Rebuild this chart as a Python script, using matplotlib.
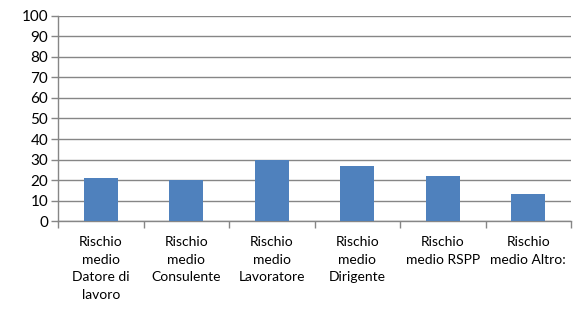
import numpy as np
import matplotlib
matplotlib.use("Agg")
import matplotlib.pyplot as plt

# Data
categories = [
    "Rischio\nmedio\nDatore di\nlavoro",
    "Rischio\nmedio\nConsulente",
    "Rischio\nmedio\nLavoratore",
    "Rischio\nmedio\nDirigente",
    "Rischio\nmedio RSPP",
    "Rischio\nmedio Altro:",
]
values = [21, 20, 30, 27, 22, 13]
y_ticks = list(range(0, 101, 10))

plt.rcParams['font.family'] = ['Lato', 'DejaVu Sans']

fig = plt.figure(figsize=(5.74, 3.11), dpi=100)
ax = fig.add_axes([0.101, 0.289, 0.894, 0.66])

x = np.arange(len(values))
ax.bar(x, values, width=0.4, color="#4f81bd", zorder=3)

ax.set_xlim(-0.5, len(values) - 0.5)
ax.set_ylim(0, 100)
ax.set_yticks(y_ticks)
ax.yaxis.grid(True, color="#868686", linewidth=1.0, zorder=0)
ax.tick_params(axis="y", length=5, width=1, color="#868686", labelsize=11, pad=2)

# category boundary ticks on x axis, labels at centers
ax.set_xticks(np.arange(-0.5, len(values), 1.0))
ax.set_xticklabels([])
ax.set_xticks(x, minor=True)
ax.set_xticklabels(categories, minor=True, fontsize=10, linespacing=1.55, va="top")
ax.tick_params(axis="x", which="major", length=5, width=1, color="#868686")
ax.tick_params(axis="x", which="minor", length=0, pad=11)

for s in ["top", "right"]:
    ax.spines[s].set_visible(False)
for s in ["left", "bottom"]:
    ax.spines[s].set_color("#868686")
    ax.spines[s].set_linewidth(1.0)

fig.savefig("out.png", dpi=100)
